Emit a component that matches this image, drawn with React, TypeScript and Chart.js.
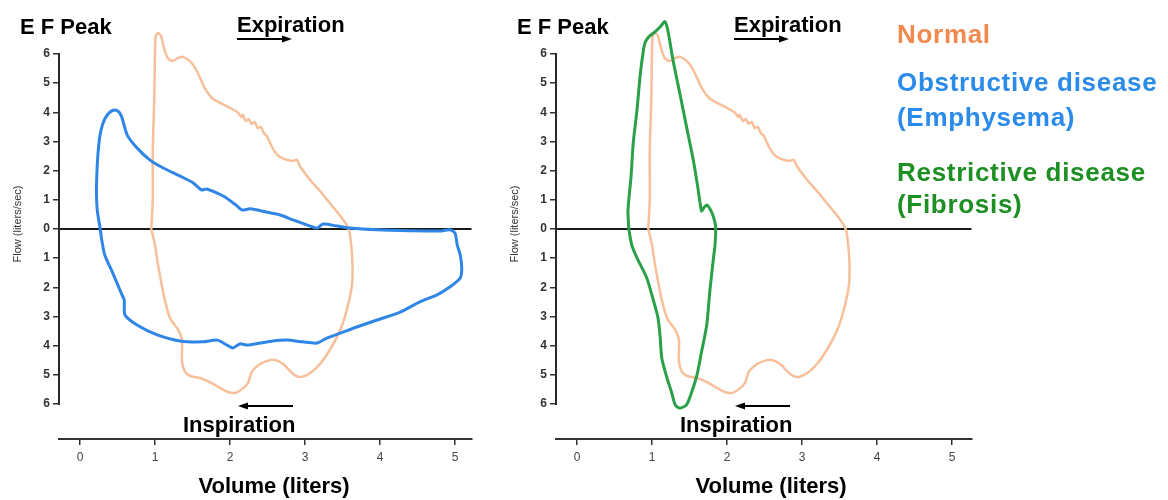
import React, { useEffect, useRef } from "react";
import { Chart, registerables } from "chart.js";

Chart.register(...registerables);

const FONT = '"Liberation Sans", Arial, Helvetica, sans-serif';

// Axis ticks
const volumeTicks = [0, 1, 2, 3, 4, 5];
const flowTicks = [-6, -5, -4, -3, -2, -1, 0, 1, 2, 3, 4, 5, 6];

// Normal flow-volume loop (volume in liters, flow in liters/sec; inspiration negative)
const normalVolume = [
  0.95, 0.97, 0.97, 0.99, 1.0, 1.01, 1.04, 1.08, 1.12, 1.17, 1.23, 1.31, 1.37, 1.45, 1.53, 1.6, 1.67, 1.76,
  1.87, 2.0, 2.11, 2.15, 2.17, 2.21, 2.25, 2.29, 2.33, 2.37, 2.41, 2.45, 2.49, 2.56, 2.63, 2.72, 2.83, 2.89,
  2.93, 3.07, 3.2, 3.33, 3.47, 3.57, 3.6, 3.63, 3.63, 3.59, 3.52, 3.44, 3.33, 3.2, 3.07, 2.96, 2.88, 2.8,
  2.71, 2.6, 2.49, 2.4, 2.29, 2.24, 2.16, 2.07, 1.97, 1.87, 1.73, 1.6, 1.47, 1.4, 1.36, 1.36, 1.36, 1.31,
  1.2, 1.13, 1.09, 1.04, 1.0, 0.96, 0.95,
];
const normalFlow = [
  0, 1.0, 2.7, 4.42, 6.14, 6.62, 6.72, 6.62, 6.2, 5.86, 5.76, 5.86, 5.9, 5.79, 5.55, 5.18, 4.8, 4.49,
  4.32, 4.15, 3.98, 3.84, 3.91, 3.7, 3.77, 3.6, 3.67, 3.46, 3.5, 3.29, 3.19, 2.81, 2.54, 2.4, 2.33, 2.37,
  2.16, 1.68, 1.3, 0.89, 0.45, 0.07, -0.2, -1.0, -1.82, -2.43, -3.12, -3.63, -4.15, -4.63, -4.94, -5.07, -5.04, -4.87,
  -4.63, -4.49, -4.53, -4.63, -4.9, -5.28, -5.49, -5.62, -5.59, -5.45, -5.25, -5.11, -5.04, -4.9, -4.56, -4.15, -3.8, -3.46,
  -3.05, -2.43, -1.92, -1.23, -0.55, -0.1, 0,
];

// Obstructive disease (Emphysema)
const obstructiveVolume = [
  0.27, 0.23, 0.22, 0.23, 0.25, 0.28, 0.33, 0.4, 0.47, 0.52, 0.56, 0.63, 0.76, 0.93, 1.11, 1.33, 1.51, 1.6,
  1.63, 1.69, 1.91, 2.08, 2.16, 2.27, 2.48, 2.67, 2.84, 3.07, 3.16, 3.24, 3.43, 3.6, 3.96, 4.4, 4.8, 4.93,
  5.0, 5.03, 5.07, 5.09, 5.07, 4.93, 4.76, 4.53, 4.27, 3.96, 3.69, 3.47, 3.29, 3.16, 2.97, 2.76, 2.57, 2.4,
  2.23, 2.13, 2.04, 1.96, 1.83, 1.64, 1.33, 1.03, 0.76, 0.6, 0.59, 0.56, 0.43, 0.33, 0.29, 0.27,
];
const obstructiveFlow = [
  0, 0.65, 1.34, 2.19, 2.88, 3.39, 3.77, 4.01, 4.08, 4.01, 3.81, 3.22, 2.78, 2.37, 2.09, 1.82, 1.58, 1.37,
  1.34, 1.37, 1.13, 0.82, 0.65, 0.69, 0.58, 0.48, 0.31, 0.1, 0.03, 0.17, 0.1, 0.03, -0.03, -0.06, -0.07, -0.03,
  -0.14, -0.55, -0.89, -1.34, -1.68, -1.99, -2.26, -2.5, -2.85, -3.12, -3.36, -3.57, -3.74, -3.91, -3.87, -3.81, -3.84, -3.91,
  -3.98, -3.94, -4.08, -3.98, -3.81, -3.87, -3.84, -3.63, -3.29, -2.95, -2.43, -2.26, -1.47, -0.89, -0.38, 0,
];

// Restrictive disease (Fibrosis)
const restrictiveVolume = [
  0.69, 0.68, 0.72, 0.75, 0.8, 0.84, 0.88, 0.91, 0.97, 1.04, 1.12, 1.17, 1.21, 1.28, 1.37, 1.46, 1.55, 1.61,
  1.66, 1.69, 1.73, 1.8, 1.84, 1.85, 1.84, 1.82, 1.77, 1.73, 1.66, 1.6, 1.53, 1.46, 1.37, 1.31, 1.26, 1.2,
  1.13, 1.11, 1.08, 1.01, 0.93, 0.8, 0.73, 0.69,
];
const restrictiveFlow = [
  0, 0.65, 1.78, 2.95, 4.08, 5.21, 6.03, 6.41, 6.62, 6.76, 6.96, 7.11, 6.82, 5.79, 4.66, 3.51, 2.37, 1.44,
  0.62, 0.72, 0.82, 0.55, 0.21, 0, -0.55, -0.99, -2.16, -3.29, -4.22, -5.0, -5.59, -6.03, -6.14, -6.03, -5.59, -5.11,
  -4.42, -3.74, -3.05, -2.37, -1.68, -0.99, -0.55, 0,
];

const legendLines = [
  { text: "Normal", color: "#F4894E", baseline: 43 },
  { text: "Obstructive disease", color: "#2A8BEA", baseline: 91.5 },
  { text: "(Emphysema)", color: "#2A8BEA", baseline: 126.5 },
  { text: "Restrictive disease", color: "#1E8F22", baseline: 181.5 },
  { text: "(Fibrosis)", color: "#1E8F22", baseline: 213 },
];

const NORMAL_COLOR = "#F7BF9A";
const OBSTRUCTIVE_COLOR = "#2F86E6";
const RESTRICTIVE_COLOR = "#2AA048";

const toPoints = (xs: number[], ys: number[]) => xs.map((x, i) => ({ x, y: ys[i] }));

function drawArrow(ctx: CanvasRenderingContext2D, x1: number, x2: number, y: number) {
  const dir = x2 > x1 ? 1 : -1;
  ctx.beginPath();
  ctx.moveTo(x1, y);
  ctx.lineTo(x2 - dir * 8, y);
  ctx.stroke();
  ctx.beginPath();
  ctx.moveTo(x2, y);
  ctx.lineTo(x2 - dir * 10, y - 3.5);
  ctx.lineTo(x2 - dir * 10, y + 3.5);
  ctx.closePath();
  ctx.fill();
}

const annotationPlugin = {
  id: "loopAnnotations",
  beforeDatasetsDraw(chart: any) {
    const { ctx, chartArea, scales } = chart;
    const y0 = scales.y.getPixelForValue(0);
    ctx.save();
    ctx.strokeStyle = "#1a1a1a";
    ctx.lineWidth = 2;
    ctx.beginPath();
    ctx.moveTo(chartArea.left, y0);
    ctx.lineTo(chartArea.right, y0);
    ctx.stroke();
    ctx.restore();
  },
  afterDraw(chart: any) {
    const { ctx, chartArea, scales } = chart;
    const left = chartArea.left;
    ctx.save();
    // y axis line from 6 to -6
    ctx.strokeStyle = "#2a2a2a";
    ctx.lineWidth = 2;
    ctx.beginPath();
    ctx.moveTo(left, scales.y.getPixelForValue(6) - 1);
    ctx.lineTo(left, scales.y.getPixelForValue(-6) + 1);
    ctx.stroke();

    ctx.fillStyle = "#000";
    ctx.strokeStyle = "#000";
    ctx.textBaseline = "alphabetic";
    ctx.font = `bold 22px ${FONT}`;
    ctx.textAlign = "left";
    ctx.fillText("E F Peak", left - 39, 34);
    ctx.fillText("Expiration", left + 178, 32);
    ctx.fillText("Inspiration", left + 124, 432);
    ctx.textAlign = "center";
    ctx.fillText("Volume (liters)", left + 215, 493);

    ctx.lineWidth = 2;
    drawArrow(ctx, left + 178, left + 233, 39);
    drawArrow(ctx, left + 234, left + 179, 406);

    ctx.translate(left - 41, 224);
    ctx.rotate(-Math.PI / 2);
    ctx.font = `11px ${FONT}`;
    ctx.fillStyle = "#333";
    ctx.textAlign = "center";
    ctx.textBaseline = "middle";
    ctx.fillText("Flow (liters/sec)", 0, 0);
    ctx.restore();
  },
};

type PanelProps = {
  left: number;
  width: number;
  yAxisWidth: number;
  xMax: number;
  curve: { label: string; xs: number[]; ys: number[]; color: string };
};

function Panel({ left, width, yAxisWidth, xMax, curve }: PanelProps) {
  const ref = useRef<HTMLCanvasElement | null>(null);
  useEffect(() => {
    if (!ref.current) return;
    const chart = new Chart(ref.current, {
      type: "scatter",
      data: {
        datasets: [
          {
            label: curve.label,
            data: toPoints(curve.xs, curve.ys),
            showLine: true,
            borderColor: curve.color,
            borderWidth: 3,
            pointRadius: 0,
            tension: 0.25,
            fill: false,
            order: 0,
          },
          {
            label: "Normal",
            data: toPoints(normalVolume, normalFlow),
            showLine: true,
            borderColor: NORMAL_COLOR,
            borderWidth: 2.5,
            pointRadius: 0,
            tension: 0.25,
            fill: false,
            order: 1,
          },
        ],
      },
      options: {
        animation: false,
        responsive: false,
        maintainAspectRatio: false,
        events: [],
        layout: { padding: { left: 0, right: width - (yAxisWidth + (xMax + 0.28) * 75), top: 10.2, bottom: 0 } },
        plugins: { legend: { display: false }, tooltip: { enabled: false }, title: { display: false } },
        scales: {
          x: {
            type: "linear",
            min: -0.28,
            max: xMax,
            afterBuildTicks: (s: any) => {
              s.ticks = volumeTicks.map((v) => ({ value: v }));
            },
            afterFit: (s: any) => {
              s.height = 61;
            },
            border: { display: true, color: "#333", width: 2 },
            grid: { drawOnChartArea: false, drawTicks: true, tickLength: 6, color: "#333", lineWidth: 1.5 },
            ticks: {
              padding: 5,
              color: "#444",
              font: { family: FONT, size: 12 },
              maxRotation: 0,
              callback: (v: any) => String(v),
            },
          },
          y: {
            type: "linear",
            min: -7.2,
            max: 7.5,
            afterBuildTicks: (s: any) => {
              s.ticks = flowTicks.map((v) => ({ value: v }));
            },
            afterFit: (s: any) => {
              s.width = yAxisWidth;
            },
            border: { display: false },
            grid: { drawOnChartArea: false, drawTicks: true, tickLength: 6, color: "#333", lineWidth: 1.5 },
            ticks: {
              padding: 3,
              color: "#333",
              font: { family: FONT, size: 12, weight: "bold" },
              callback: (v: any) => String(Math.abs(Number(v))),
            },
          },
        },
      },
      plugins: [annotationPlugin],
    } as any);
    return () => chart.destroy();
  }, []);
  return (
    <canvas
      ref={ref}
      width={width}
      height={500}
      style={{ position: "absolute", left, top: 0, width, height: 500 }}
    />
  );
}

export default function App() {
  return (
    <div style={{ position: "absolute", left: 0, top: 0, width: 1168, height: 500, background: "#fff", overflow: "hidden" }}>
      <Panel
        left={0}
        width={480}
        yAxisWidth={59}
        xMax={5.22}
        curve={{ label: "Obstructive disease (Emphysema)", xs: obstructiveVolume, ys: obstructiveFlow, color: OBSTRUCTIVE_COLOR }}
      />
      <Panel
        left={480}
        width={500}
        yAxisWidth={76}
        xMax={5.26}
        curve={{ label: "Restrictive disease (Fibrosis)", xs: restrictiveVolume, ys: restrictiveFlow, color: RESTRICTIVE_COLOR }}
      />
      {legendLines.map((l) => (
        <div
          key={l.text}
          style={{
            position: "absolute",
            left: 897,
            top: l.baseline - 0.8465 * 26,
            fontFamily: FONT,
            fontWeight: "bold",
            fontSize: 26,
            lineHeight: "26px",
            letterSpacing: "0.7px",
            color: l.color,
            whiteSpace: "nowrap",
          }}
        >
          {l.text}
        </div>
      ))}
    </div>
  );
}
